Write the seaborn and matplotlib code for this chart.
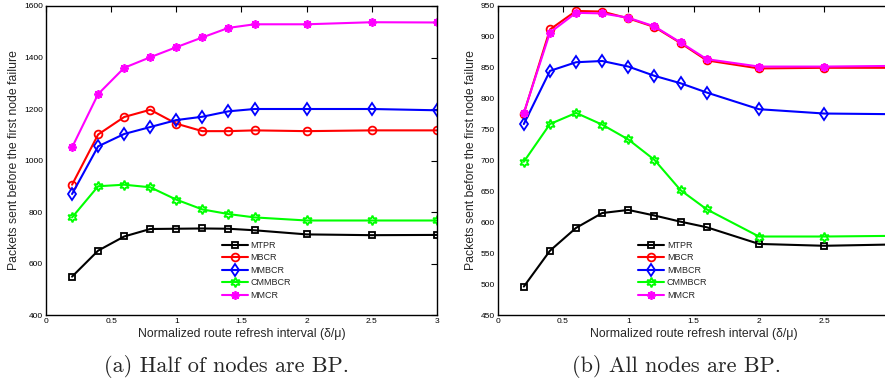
import matplotlib
matplotlib.use("Agg")
import matplotlib.pyplot as plt
import seaborn as sns
import pandas as pd

# ---------------- data ----------------
x_vals = [0.2, 0.4, 0.6, 0.8, 1.0, 1.2, 1.4, 1.6, 2.0, 2.5, 3.0]
series_names = ["MTPR", "MBCR", "MMBCR", "CMMBCR", "MMCR"]

# (a) Half of nodes are BP
a_mtpr = [549, 650, 705, 734, 735, 736, 735, 729, 713, 710, 711]
a_mbcr = [906, 1101, 1169, 1197, 1143, 1114, 1114, 1117, 1114, 1117, 1117]
a_mmbcr = [870, 1055, 1103, 1130, 1157, 1170, 1191, 1200, 1200, 1200, 1195]
a_cmmbcr = [779, 900, 906, 896, 848, 810, 792, 779, 767, 767, 767]
a_mmcr = [1051, 1258, 1360, 1401, 1440, 1478, 1515, 1529, 1529, 1537, 1536]

# (b) All nodes are BP
b_mtpr = [496, 554, 591, 615, 620, 611, 601, 592, 565, 562, 564]
b_mbcr = [776, 912, 942, 941, 930, 916, 890, 862, 849, 850, 850]
b_mmbcr = [759, 845, 859, 861, 852, 837, 825, 810, 783, 776, 775]
b_cmmbcr = [698, 759, 777, 758, 734, 701, 652, 621, 577, 577, 578]
b_mmcr = [777, 907, 939, 938, 931, 917, 891, 864, 852, 852, 853]

a_xticks = [0, 0.5, 1, 1.5, 2, 2.5, 3]
a_xtick_labels = ["0", "0.5", "1", "1.5", "2", "2.5", "3"]
b_xticks = [0, 0.5, 1, 1.5, 2, 2.5]
b_xtick_labels = ["0", "0.5", "1", "1.5", "2", "2.5"]
a_yticks = [400, 600, 800, 1000, 1200, 1400, 1600]
b_yticks = [450, 500, 550, 600, 650, 700, 750, 800, 850, 900, 950]

xlabel = "Normalized route refresh interval (δ/μ)"
ylabel = "Packets sent before the first node failure"
captions = ["(a) Half of nodes are BP.", "(b) All nodes are BP."]

# ---------------- style ----------------
sns.set_style("white")
plt.rcParams["font.family"] = ["Liberation Sans", "DejaVu Sans"]

colors = {"MTPR": "#000000", "MBCR": "#ff0000", "MMBCR": "#0000ff",
          "CMMBCR": "#00ff00", "MMCR": "#ff00ff"}
markers = {"MTPR": "s", "MBCR": "o", "MMBCR": "d",
           "CMMBCR": (6, 1, 0), "MMCR": (8, 2, 0)}
msizes = {"MTPR": 5.0, "MBCR": 5.6, "MMBCR": 6.2, "CMMBCR": 7.0, "MMCR": 6.2}

fig = plt.figure(figsize=(8.85, 3.78), dpi=100)
W, H = 885, 378

def ax_rect(x0, x1, ytop, ybot):
    return [x0 / W, 1 - ybot / H, (x1 - x0) / W, (ybot - ytop) / H]

ax_a = fig.add_axes(ax_rect(46, 437, 6, 315))
ax_b = fig.add_axes(ax_rect(497.7, 889.6, 6, 315))

panels = [
    (ax_a, [a_mtpr, a_mbcr, a_mmbcr, a_cmmbcr, a_mmcr], (400, 1600), a_yticks,
     a_xticks, a_xtick_labels, 221.7, 226),
    (ax_b, [b_mtpr, b_mbcr, b_mmbcr, b_cmmbcr, b_mmcr], (450, 950), b_yticks,
     b_xticks, b_xtick_labels, 638, 676),
]

for i, (ax, ys, ylim, yticks, xt, xtl, leg_x, cap_x) in enumerate(panels):
    for name, y in zip(series_names, ys):
        df = pd.DataFrame({"x": x_vals, "y": y})
        c = colors[name]
        sns.lineplot(data=df, x="x", y="y", ax=ax, color=c, linewidth=1.5,
                     marker=markers[name], markersize=msizes[name],
                     markerfacecolor="none", markeredgecolor=c,
                     markeredgewidth=1.3, label=name, sort=False,
                     errorbar=None)
    ax.set_xlim(0, 3)
    ax.set_ylim(*ylim)
    ax.set_xticks(xt)
    ax.set_xticklabels(xtl)
    ax.set_yticks(yticks)
    ax.set_yticklabels([str(t) for t in yticks])
    ax.tick_params(direction="in", length=4, width=0.8, top=True,
                   right=(i == 0), labelsize=6, colors="black", pad=2)
    for s in ax.spines.values():
        s.set_linewidth(1.0)
        s.set_color("black")
    ax.set_xlabel(xlabel, fontsize=8.8, labelpad=2)
    ax.set_ylabel(ylabel, fontsize=8.8, labelpad=3)
    ax.legend(loc="upper left",
              bbox_to_anchor=(leg_x / W, 1 - 241 / H),
              bbox_transform=fig.transFigure, frameon=False,
              fontsize=6.5, handlelength=2.9, handletextpad=0.3,
              labelspacing=0.38, borderpad=0, borderaxespad=0)
    fig.text(cap_x / W, 1 - 367 / H, captions[i], ha="center", va="center",
             fontsize=16, family=["cmr10", "DejaVu Serif"])

fig.savefig("out.png", dpi=100)
